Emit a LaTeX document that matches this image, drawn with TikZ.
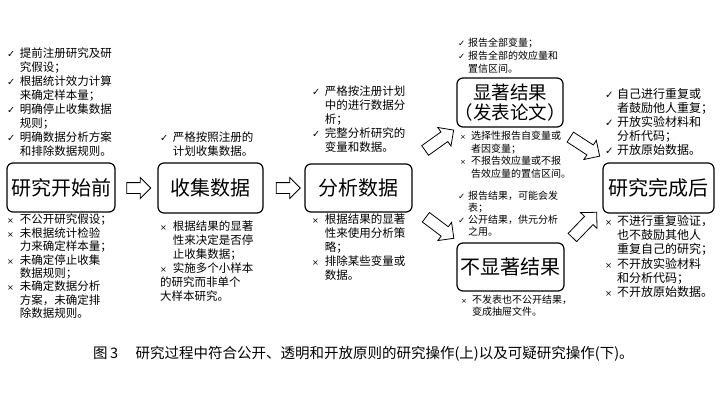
\documentclass[tikz,border=0pt]{standalone}
\usepackage{fontspec}
\usepackage{graphicx}
\setmainfont{Noto Sans CJK SC}
\newfontfamily\symf{DejaVu Sans}
\usetikzlibrary{shapes.arrows}
\newlength\mkw
\newcommand\okmk{\makebox[\mkw][l]{\scalebox{0.85}{\symf ✓}}}
\newcommand\nomk{\makebox[\mkw][l]{\scalebox{0.7}{\symf ×}}}
\newcommand\ind{\hspace*{\mkw}}
\tikzset{
  stagebox/.style={draw, line width=1.2pt, rounded corners=6pt, inner sep=0pt, align=center,
    font=\fontsize{20}{23}\selectfont},
  lst/.style={anchor=north west, inner sep=0pt, align=left},
  blk/.style={single arrow, draw, line width=0.8pt, inner sep=5pt, single arrow head extend=5pt,
    minimum height=24pt, fill=white},
  dblk/.style={blk, inner sep=5.5pt, single arrow head extend=5.5pt, minimum height=35pt}
}
\begin{document}
\begin{tikzpicture}[x=1pt,y=-1pt]
\useasboundingbox (0,0) rectangle (720,405);
% stage boxes
\node[stagebox, minimum width=108pt, minimum height=49pt] (b1) at (61,187.5) {研究开始前};
\node[stagebox, minimum width=105pt, minimum height=50pt] (b2) at (210.5,188) {收集数据};
\node[stagebox, minimum width=107pt, minimum height=48pt] (b3) at (358.5,188) {分析数据};
\node[stagebox, minimum width=106pt, minimum height=49pt, font=\fontsize{18.5}{20}\selectfont] (b4) at (510,102.5)
  {显著结果\\\makebox[0.6em][r]{（}发表论文\makebox[0.6em][l]{）}};
\node[stagebox, minimum width=107pt, minimum height=48pt] (b5) at (510.5,267) {不显著结果};
\node[stagebox, minimum width=111pt, minimum height=50pt] (b6) at (658.5,188) {研究完成后};
% block arrows
\node[blk] (a1) at (136,188) {};
\node[blk] (a2) at (285.5,188) {};
\node[dblk, rotate=35.5] (a3) at (437,142) {};
\node[dblk, rotate=-37] (a4) at (437.5,226) {};
\node[dblk, rotate=-33] (a5) at (582.5,145) {};
\node[dblk, rotate=46] (a6) at (582.5,227) {};
% lists column 1
\node[lst, font={\fontsize{11.5}{14}\selectfont\setlength\mkw{1.1em}}] (l1t) at (7,48) {%
\okmk 提前注册研究及研\\\ind 究假设；\\\okmk 根据统计效力计算\\\ind 来确定样本量；\\%
\okmk 明确停止收集数据\\\ind 规则；\\\okmk 明确数据分析方案\\\ind 和排除数据规则。};
\node[lst, font={\fontsize{11.5}{13.4}\selectfont\setlength\mkw{1.1em}}] (l1b) at (7,214) {%
\nomk 不公开研究假设；\\\nomk 未根据统计检验\\\ind 力来确定样本量；\\\nomk 未确定停止收集\\%
\ind 数据规则；\\\nomk 未确定数据分析\\\ind 方案，未确定排\\\ind 除数据规则。};
% column 2
\node[lst, font={\fontsize{11.5}{14}\selectfont\setlength\mkw{1.1em}}] (l2t) at (160,132) {%
\okmk 严格按照注册的\\\ind 计划收集数据。};
\node[lst, font={\fontsize{11.5}{14}\selectfont\setlength\mkw{1.1em}}] (l2b) at (160,221) {%
\nomk 根据结果的显著\\\ind 性来决定是否停\\\ind 止收集数据；\\\nomk 实施多个小样本\\%
的研究而非单个\\大样本研究。};
% column 3
\node[lst, font={\fontsize{11.5}{14}\selectfont\setlength\mkw{1.1em}}] (l3t) at (312,86) {%
\okmk 严格按注册计划\\\ind 中的进行数据分\\\ind 析；\\\okmk 完整分析研究的\\\ind 变量和数据。};
\node[lst, font={\fontsize{11.5}{14}\selectfont\setlength\mkw{1.1em}}] (l3b) at (312,214) {%
\nomk 根据结果的显著\\\ind 性来使用分析策\\\ind 略；\\\nomk 排除某些变量或\\\ind 数据。};
% column 4
\node[lst, font={\fontsize{10}{13}\selectfont\setlength\mkw{1em}}] (l4a) at (458,38) {%
\okmk 报告全部变量；\\\okmk 报告全部的效应量和\\\ind 置信区间。};
\node[lst, font={\fontsize{10}{12.5}\selectfont\setlength\mkw{1.1em}}] (l4b) at (460,131) {%
\nomk 选择性报告自变量或\\\ind 者因变量；\\\nomk 不报告效应量或不报\\\ind 告效应量的置信区间。};
\node[lst, font={\fontsize{10}{12}\selectfont\setlength\mkw{1em}}] (l4c) at (458,191) {%
\okmk 报告结果，可能会发\\\ind 表；\\\okmk 公开结果，供元分析\\\ind 之用。};
\node[lst, font={\fontsize{10}{12}\selectfont\setlength\mkw{1.1em}}] (l4d) at (461,295) {%
\nomk 不发表也不公开结果，\\\ind 变成抽屉文件。};
% column 5
\node[lst, font={\fontsize{12}{14}\selectfont\setlength\mkw{1em}}] (l5t) at (605,88) {%
\okmk 自己进行重复或\\\ind 者鼓励他人重复；\\\okmk 开放实验材料和\\\ind 分析代码；\\\okmk 开放原始数据。};
\node[lst, font={\fontsize{12}{14.3}\selectfont\setlength\mkw{1em}}] (l5b) at (605,215) {%
\nomk 不进行重复验证，\\\ind 也不鼓励其他人\\\ind 重复自己的研究；\\\nomk 不开放实验材料\\%
\ind 和分析代码；\\\nomk 不开放原始数据。};
% caption
\node[anchor=west, inner sep=0pt, font={\fontsize{14.5}{16}\selectfont}] (cap) at (93,354) {%
图\,3\hspace{1.2em}研究过程中符合公开、透明和开放原则的研究操作(上)以及可疑研究操作(下)。};
\end{tikzpicture}
\end{document}
